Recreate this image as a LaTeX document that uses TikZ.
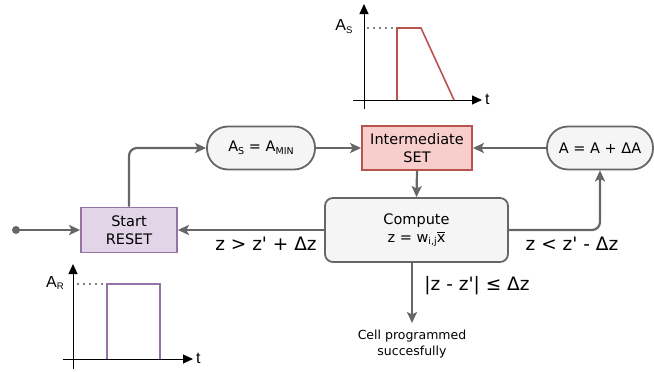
\documentclass[tikz,border=0pt]{standalone}
\usepackage{fontspec}
\setmainfont{DejaVu Sans}
\newfontfamily\plotfont{Liberation Sans}
\usetikzlibrary{arrows.meta,calc,positioning}
\definecolor{linegray}{HTML}{666666}
\definecolor{boxgray}{HTML}{F5F5F5}
\definecolor{resetfill}{HTML}{E1D5E7}
\definecolor{resetdraw}{HTML}{9673A6}
\definecolor{setfill}{HTML}{F8CECC}
\definecolor{setdraw}{HTML}{B85450}
\newcommand{\subtxt}[1]{\raisebox{-0.35ex}{\fontsize{9.5}{9.5}\selectfont #1}}
\newcommand{\prm}{\textquotesingle}

\begin{document}
\begin{tikzpicture}[
  x=1pt,y=-1pt,
  box/.style={draw,line width=1.8pt,minimum width=96pt,minimum height=45pt,align=center,font=\fontsize{14.5}{18}\selectfont,inner sep=2pt},
  resetbox/.style={box,fill=resetfill,draw=resetdraw},
  setbox/.style={box,fill=setfill,draw=setdraw,minimum width=110pt,minimum height=44pt},
  pill/.style={box,fill=boxgray,draw=linegray,rounded corners=21pt,minimum height=43pt},
  compbox/.style={box,fill=boxgray,draw=linegray,rounded corners=8pt,minimum width=183pt,minimum height=64pt},
  flow/.style={-{Stealth[length=11pt,width=10pt,inset=2.5pt]},line width=2.2pt,draw=linegray,rounded corners=8pt},
  cond/.style={font=\fontsize{18.5}{22}\selectfont,inner sep=2pt},
  axis/.style={-{Triangle[length=10pt,width=9pt]},line width=1pt,black},
  plotlbl/.style={font=\plotfont\fontsize{16}{18}\selectfont,inner sep=1pt},
  dots/.style={line width=1.6pt,line cap=round,dash pattern=on 0pt off 6pt}
]
\useasboundingbox (0,0) rectangle (654,372);

% flow chart
\node[resetbox] (reset) at (129,230) {Start\\RESET};
\node[pill,minimum width=108pt] (amin) at (261,148) {A\subtxt{S} = A\subtxt{MIN}};
\node[setbox] (iset) at (417,148) {Intermediate\\SET};
\node[pill,minimum width=106pt] (inc) at (600,148) {A = A + ΔA};
\node[compbox] (comp) at (416.5,230) {Compute\\z = w\subtxt{i,j}$\overline{\hbox{x}}$};
\coordinate (in) at (16,230);
\coordinate (done) at (412,323);

\fill[linegray] (in) circle (4pt);
\draw[flow] (in) -- (reset.west);
\draw[flow] (reset.north) |- (amin.west);
\draw[flow] (amin.east) -- (iset.west);
\draw[flow] (inc.west) -- (iset.east);
\draw[flow] (iset.south) -- (comp.north);
\draw[flow] (comp.west) -- (reset.east);
\draw[flow] (comp.east) -| (inc.south);
\draw[flow] (comp.south -| done) -- (done);

\node[cond] (c1) at (266,244) {z > z\prm{} + Δz};
\node[cond] (c2) at (572,244) {z < z\prm{} - Δz};
\node[cond] (c3) at (477,286) {|z - z\prm|  ≤  Δz};
\node[align=center,font=\fontsize{12.5}{16}\selectfont,below=3pt of done] (cell) {Cell programmed\\succesfully};

% set pulse
\draw[axis] (364,109) -- (364,4);
\draw[axis] (353,100) -- (482,100);
\node[plotlbl,anchor=west] (ts) at (484,99) {t};
\node[plotlbl] (as) at (344,27) {A\subtxt{S}};
\draw[dots] (368,28) -- (394,28);
\draw[setdraw,line width=1.6pt] (397,100) -- (397,28) -- (421,28) -- (454,100);

% reset pulse
\draw[axis] (73,369) -- (73,264);
\draw[axis] (63,359) -- (193,359);
\node[plotlbl,anchor=west] (tr) at (195,358) {t};
\node[plotlbl] (ar) at (55,283) {A\subtxt{R}};
\draw[dots] (78,284) -- (104,284);
\draw[resetdraw,line width=1.6pt] (107,359) -- (107,284) -- (160,284) -- (160,359);
\end{tikzpicture}
\end{document}
